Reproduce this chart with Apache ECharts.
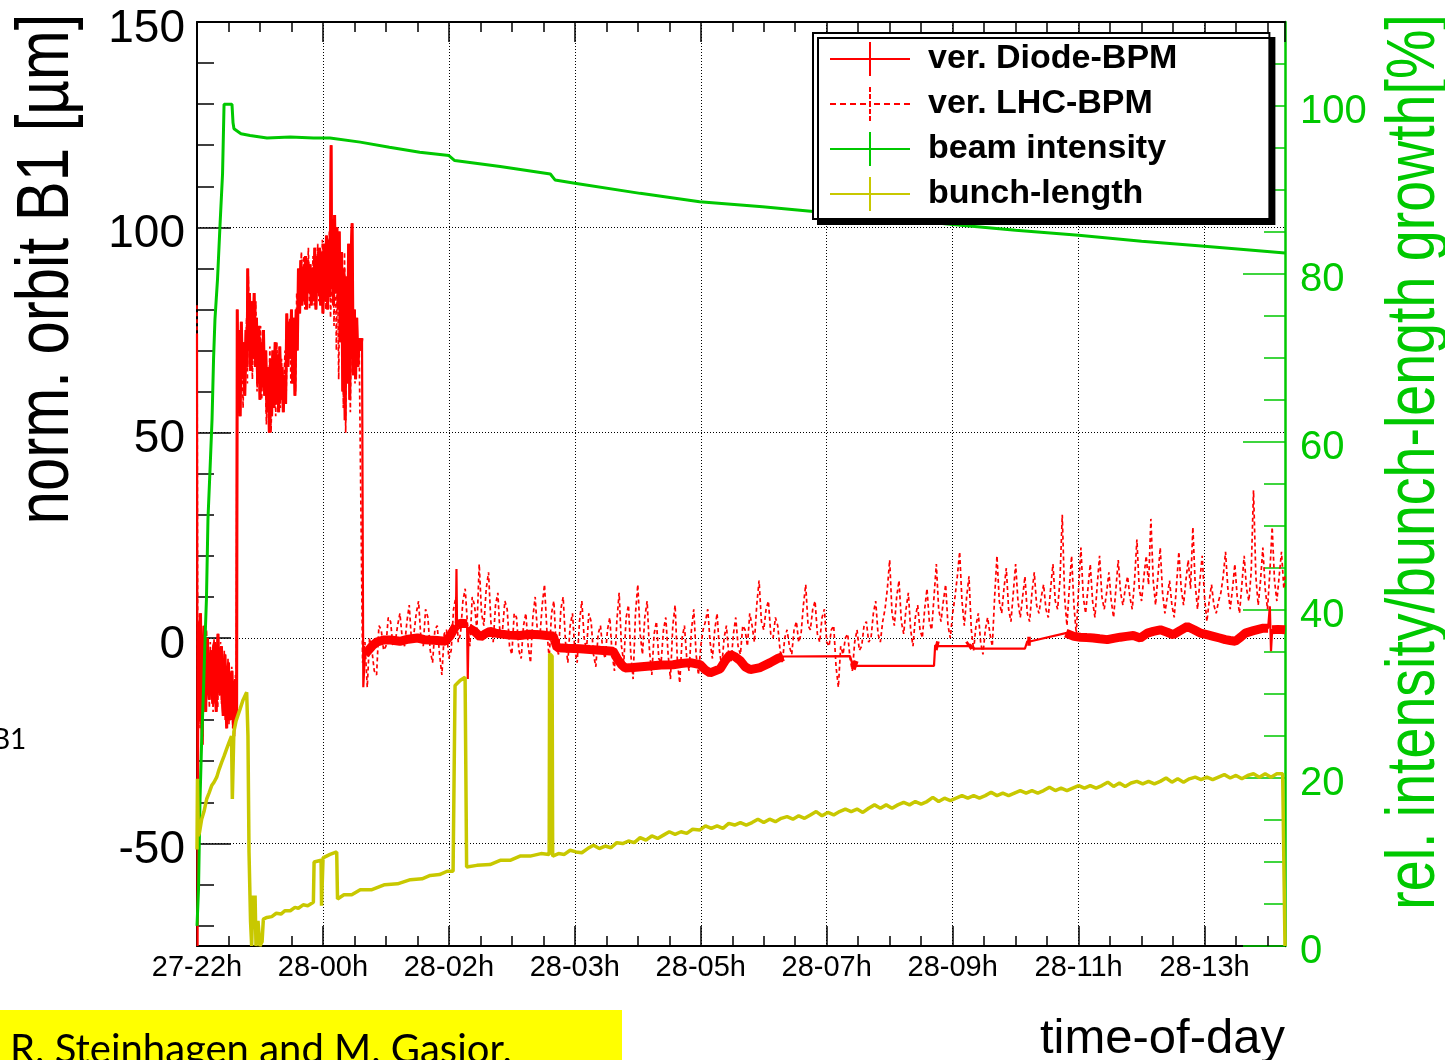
<!DOCTYPE html>
<html>
<head>
<meta charset="utf-8">
<title>Beam 1 orbit, intensity and bunch length</title>
<script src="https://cdn.jsdelivr.net/npm/echarts@6/dist/echarts.min.js"></script>
<style>
  html, body { margin: 0; padding: 0; background: #ffffff; }
  #chart { width: 1445px; height: 1060px; }
</style>
</head>
<body>
<div id="chart"></div>
<script>
// Time runs in minutes after the 27-22h tick; major ticks are 108 min apart.
const timeTickLabels = ['27-22h', '28-00h', '28-02h', '28-03h', '28-05h', '28-07h', '28-09h', '28-11h', '28-13h'];
const timeTickStep = 108;
const timeMinorStep = 27;
const timeEnd = 933;

const orbitMajorTicks = [-50, 0, 50, 100, 150];
const orbitMinorTicks = [-70, -60, -40, -30, -20, -10, 10, 20, 30, 40, 60, 70, 80, 90, 110, 120, 130, 140];
const growthMajorTicks = [0, 20, 40, 60, 80, 100];
const growthMinorTicks = [5, 10, 15, 25, 30, 35, 45, 50, 55, 65, 70, 75, 85, 90, 95, 105];

// ver. Diode-BPM: [minutes, µm]
const diodeBpm = [
  [0, 74], [0.5, -75], [1.2, 4],
  [1.5, -20], [2.2, 2], [3, 6], [3.7, -15], [4.5, -26], [5.2, -5], [6, 3], [6.7, -12],
  [7.5, -18], [8.2, -4], [9, 0], [9.7, -10], [10.5, -15], [11.2, -6], [12, -3], [12.7, -11],
  [13.5, -16], [14.2, -2], [15, -1], [15.7, -13], [16.5, -18], [17.2, -5], [18, 1], [18.7, -9],
  [19.5, -14], [20.2, -4], [21, -2], [21.7, -15], [22.5, -19], [23.2, -7], [24, -4], [24.7, -16],
  [25.5, -22], [26.2, -9], [27, -6], [27.7, -17], [28.5, -20], [29.2, -10], [30, -8], [30.7, -18],
  [31.5, -22], [32.2, -12], [33, -10], [33.5, -20], [34, -17],
  [34.5, 80], [35, 62], [36, 75], [37, 54], [38, 77], [39, 63], [40, 72], [41, 59], [42, 75],
  [43, 66], [43.5, 90], [44, 70], [45, 84], [46, 65], [47, 82], [48, 68], [49, 84], [50, 66],
  [51, 78], [52, 62], [53, 76], [54, 58], [55, 72], [56, 61], [57, 75], [58, 59], [59, 70],
  [60, 55], [61, 66], [62, 50], [63, 68], [64, 54], [65, 70], [66, 56], [67, 72], [68, 57],
  [69, 69], [70, 55], [71, 71], [72, 58], [73, 66], [74, 55], [75, 64], [76, 57], [77, 79],
  [78, 66], [79, 77], [80, 68], [81, 80], [82, 62], [83, 78], [84, 59], [85, 80], [86, 70],
  [87, 90], [88, 79], [89, 92], [90, 81], [91, 90], [92, 82], [93, 93], [94, 80], [95, 92],
  [96, 84], [97, 91], [98, 81], [99, 90], [100, 82], [101, 95], [102, 80], [103, 93], [104, 84],
  [105, 95], [106, 81], [107, 94], [108, 79], [109, 96], [110, 82], [111, 98], [112, 80],
  [113, 97], [114, 83], [115, 120], [115.5, 85], [116, 102], [117, 81], [118, 103], [119, 84],
  [120, 100], [121, 80], [122, 99], [123, 72], [124, 94], [125, 60], [126, 90], [127, 53],
  [128, 88], [129, 62], [130, 96], [131, 58], [132, 92], [133, 101], [134, 64], [135, 80],
  [136, 63], [137, 78], [138, 66], [139, 73], [140, 70], [141.5, 73], [142.6, -12],
  [144, -4], [147, -3], [150, -2], [154, -1], [160, -0.5], [166, -0.5], [174, -0.8], [181, -0.3],
  [189, 0], [195, -0.4], [200, -0.5], [206, -0.6], [213, -0.8], [217, 0.5], [222, 3.0],
  [222.5, 16.8], [223, 3.0], [226, 3.6], [231.6, 3.5], [232.2, -10], [232.9, 2.5], [238.5, 1.5],
  [243, 0.2], [247, 1.0], [251, 1.6], [256, 1.2], [260, 1.0], [268, 0.7], [277, 0.6], [285, 0.9],
  [294, 0.8], [300, 0.6], [305.4, 0.5], [308.8, -2.4], [318, -2.5], [328.5, -2.6], [337, -2.8],
  [345.7, -3.0], [356.8, -3.2], [360.3, -5], [364, -6.5], [367.1, -7.3], [374, -7.2], [381, -7.0],
  [388.6, -6.8], [398, -6.6], [408.3, -6.5], [415, -6.2], [423, -6], [431.5, -6.5], [436, -7.8],
  [440, -8.5], [448.6, -7.5], [453, -5.5], [457.2, -4], [461, -4.5], [465.8, -5.5], [470, -7],
  [474.4, -7.7], [483, -7.2], [491.6, -6], [498, -5], [502.7, -4.5],
  [560, -4.4], [562, -6.4], [566, -6.8], [632, -6.8], [633, -1.8], [636, -2.0], [661, -2.0],
  [663, -1.6], [666, -2.6], [710, -2.6], [712, -0.8], [715, -0.8],
  [745, 1.2], [746.3, 0.8], [752, 0.4], [757.5, 0.2], [763, 0.1], [768.6, 0], [774, -0.2],
  [780.6, -0.4], [786, -0.1], [791.8, 0.2], [797, 0.4], [802.9, 0.6], [808.9, 0], [814.9, 1.2],
  [820, 1.6], [826.1, 2.0], [832, 1.4], [837.2, 0.8], [843, 1.8], [849.2, 2.8], [855, 2.0],
  [860.4, 1.2], [866, 0.8], [871.5, 0.4], [877, 0], [881.8, -0.4], [886, -0.6], [890.4, -0.8],
  [895, 0.2], [899, 1.2], [906, 1.8], [914.4, 2.4], [918.5, 2.4], [920, 7.7], [921, -3.2],
  [922, 2.0], [927, 2.1], [933, 2.0]
];

// Early, strongly fluctuating stretch of the diode readout
const diodeNoisySpan = [1.5, 141.5];

// Stretches where the diode readings come so densely that their error bars merge into a band
const diodeDenseSpans = [
  [144, 222], [223, 231.6], [232.9, 502.7], [562, 566], [633, 636],
  [661, 663], [712, 715], [745, 918.5], [922, 933]
];

// ver. LHC-BPM: [minutes, µm]
const lhcBpm = [
  [0, 81], [0.6, -8], [1.8, -2], [2.6, -22], [3.4, 0], [4.2, -14], [5, -24], [5.8, 1],
  [6.6, -9], [7.4, -16], [8.2, 2], [9, -12], [9.8, -6], [10.6, -17], [11.4, -1], [12.2, -14],
  [13, -8], [13.8, -18], [14.6, 0], [15.4, -10], [16.2, -15], [17, -3], [17.8, -17], [18.6, -6],
  [19.4, -12], [20.2, -1], [21, -16], [21.8, -8], [22.6, -13], [23.4, -3], [24.2, -20], [25, -10],
  [25.8, -17], [26.6, -5], [27.4, -21], [28.2, -12], [29, -18], [29.8, -7], [30.6, -22],
  [31.4, -14], [32.2, -24], [33, -9], [33.8, -19], [34.4, 78],
  [35.5, 58], [36.5, 72], [37.5, 60], [38.5, 74], [39.5, 56], [40.5, 70], [41.5, 64], [42.5, 78],
  [43.2, 62], [44, 88], [45.5, 70], [46.5, 80], [47.5, 63], [48.5, 78], [49.5, 70], [50.5, 82],
  [51.5, 60], [52.5, 72], [53.5, 64], [54.5, 76], [55.5, 58], [56.5, 70], [57.5, 63], [58.5, 67],
  [59.5, 52], [60.5, 62], [61.5, 56], [62.5, 71], [63.5, 50], [64.5, 64], [65.5, 58], [66.5, 68],
  [67.5, 54], [68.5, 72], [69.5, 60], [70.5, 66], [71.5, 56], [72.5, 68], [73.5, 58], [74.5, 62],
  [75.5, 70], [76.5, 60], [77.5, 76], [78.5, 70], [79.5, 78], [80.5, 62], [81.5, 76], [82.5, 64],
  [83.5, 74], [84.5, 60], [85.5, 84], [86.5, 80], [87.5, 88], [88.5, 84], [89.5, 94], [90.5, 86],
  [91.5, 93], [92.5, 80], [93.5, 90], [94.5, 85], [95.5, 95], [96.5, 80], [97.5, 88], [98.5, 84],
  [99.5, 93], [100.5, 81], [101.5, 92], [102.5, 86], [103.5, 96], [104.5, 82], [105.5, 91],
  [106.5, 85], [107.5, 97], [108.5, 84], [109.5, 93], [110.5, 80], [111.5, 95], [112.5, 85],
  [113.5, 99], [114.5, 78], [116.5, 96], [117.5, 76], [118.5, 99], [119.5, 70], [120.5, 92],
  [121.5, 63], [122.5, 90], [123.5, 76], [124.5, 88], [125.5, 56], [126.5, 94], [127.5, 50],
  [128.5, 82], [129.5, 66], [130.5, 90], [131.5, 55], [132.5, 84], [133.5, 70], [134.5, 76],
  [135.5, 62], [136.5, 74], [137.5, 68],
  [139, 73], [142, -6], [144, -1], [146, -12], [148, 0], [150, -3], [152, -8], [154, -9],
  [156, 3], [158, 2], [160, -3], [162, -2], [164, 5], [166, 4], [168, -2], [170, -1], [172, 3],
  [174, 6], [176, 0], [178, -2], [180, 4], [182, 8], [184, -1], [186, 1], [188, 6], [190, 9],
  [192, 0], [194, -2], [196, 7], [198, 5], [200, -3], [202, -6], [204, 2], [206, 3], [208, -4],
  [210, -9], [212, 1], [214, 2], [216, -5], [218, -3], [220, 7], [222, 10], [224, -1], [226, 1],
  [228, 9], [230, 12], [232, 3], [234, -2], [236, 10], [238, 8], [240, 2], [242, 18], [244, 6],
  [246, 3], [248, 12], [250, 16], [252, 4], [254, -1], [256, 8], [258, 11], [260, 0], [262, 2],
  [264, 9], [266, 7], [268, -2], [270, -4], [272, 6], [274, 5], [276, -3], [278, -5], [280, 3],
  [282, 6], [284, -2], [286, -6], [288, 5], [290, 10], [292, 1], [294, 0], [296, 8], [298, 13],
  [300, 2], [302, -5], [304, 6], [306, 9], [308, -2], [310, -4], [312, 7], [314, 10], [316, -1],
  [318, -6], [320, 3], [322, 6], [324, -3], [326, -6], [328, 4], [330, 9], [332, 0], [334, -3],
  [336, 6], [338, 4], [340, -4], [342, -7], [344, 1], [346, 3], [348, -3], [350, -5], [352, 2],
  [354, 5], [356, -4], [358, -8], [360, 4], [362, 11], [364, -2], [366, -6], [368, 5], [370, 8],
  [372, -4], [374, -10], [376, 6], [378, 13], [380, 1], [382, -4], [384, 5], [386, 9], [388, -3],
  [390, -9], [392, 1], [394, 4], [396, -5], [398, -6], [400, 2], [402, 5], [404, -4], [406, -10],
  [408, 3], [410, 8], [412, -6], [414, -11], [416, 0], [418, 3], [420, -5], [422, -8], [424, 2],
  [426, 7], [428, -4], [430, -9], [432, -2], [434, 2], [436, 4], [438, 7], [440, -1], [442, -5],
  [444, 2], [446, 6], [448, -3], [450, -7], [452, 0], [454, 3], [456, -4], [458, -6], [460, 1],
  [462, 5], [464, -2], [466, -4], [468, 3], [470, 2], [472, -2], [474, 6], [476, 3], [478, -1],
  [480, 8], [482, 14], [484, 4], [486, 2], [488, 7], [490, 9], [492, 1], [494, 0], [496, 5],
  [498, 3], [500, -3], [502, -6], [504, 0], [506, 2], [508, -2], [510, -4], [512, 2], [514, 4],
  [516, -1], [518, 1], [520, 8], [522, 13], [524, 3], [526, 2], [528, 7], [530, 9], [532, 1],
  [534, -1], [536, 5], [538, 7], [540, -1], [542, -2], [544, 2], [546, 3], [548, -7], [550, -12],
  [552, -2], [554, -4], [556, 0], [558, 1], [560, -5], [562, -8], [564, -1], [566, 2], [568, -3],
  [570, -2], [572, 3], [574, 4], [576, -1], [578, 0], [580, 6], [582, 9], [584, 1], [586, -1],
  [588, 4], [590, 7], [592, 12], [594, 19], [596, 6], [598, 3], [600, 10], [602, 14], [604, 4],
  [606, 1], [608, 7], [610, 11], [612, 2], [614, -2], [616, 5], [618, 8], [620, 2], [622, 0],
  [624, 7], [626, 12], [628, 4], [630, 2], [632, 10], [634, 18], [636, 7], [638, 4], [640, 9],
  [642, 13], [644, 3], [646, 0], [648, 6], [650, 10], [652, 15], [654, 21], [656, 9], [658, 3],
  [660, 10], [662, 15], [664, 2], [666, -3], [668, 3], [670, 6], [672, -1], [674, -4], [676, 2],
  [678, 5], [680, 1], [682, -2], [684, 10], [686, 20], [688, 9], [690, 6], [692, 12], [694, 17],
  [696, 7], [698, 4], [700, 11], [702, 18], [704, 9], [706, 5], [708, 10], [710, 15], [712, 6],
  [714, 4], [716, 11], [718, 16], [720, 8], [722, 6], [724, 10], [726, 13], [728, 7], [730, 5],
  [732, 12], [734, 18], [736, 9], [738, 7], [740, 14], [742, 30], [744, 10], [746, 3], [748, 12],
  [750, 20], [752, 8], [754, 1], [756, 12], [758, 22], [760, 10], [762, 6], [764, 12], [766, 18],
  [768, 9], [770, 5], [772, 13], [774, 20], [776, 10], [778, 7], [780, 11], [782, 16], [784, 9],
  [786, 5], [788, 12], [790, 19], [792, 11], [794, 8], [796, 12], [798, 15], [800, 10], [802, 7],
  [804, 14], [806, 24], [808, 12], [810, 9], [812, 15], [814, 20], [816, 13], [818, 29], [820, 14],
  [822, 8], [824, 15], [826, 22], [828, 11], [830, 6], [832, 10], [834, 14], [836, 8], [838, 5],
  [840, 13], [842, 21], [844, 12], [846, 8], [848, 14], [850, 19], [852, 12], [854, 27], [856, 13],
  [858, 7], [860, 14], [862, 20], [864, 10], [866, 4], [868, 9], [870, 13], [872, 8], [874, 6],
  [876, 9], [878, 11], [880, 15], [882, 21], [884, 12], [886, 7], [888, 12], [890, 18], [892, 10],
  [894, 6], [896, 13], [898, 20], [900, 12], [902, 9], [904, 16], [906, 36], [908, 15], [910, 8],
  [912, 14], [914, 22], [916, 12], [918, 7], [920, 16], [922, 27], [924, 14], [926, 9], [928, 15],
  [930, 21], [932, 12], [933, 15]
];

// beam intensity: [minutes, %]
const beamIntensity = [
  [0, 2.4], [1.3, 6.8], [2.6, 17.5], [3.9, 24], [5.6, 30.6], [6.9, 36.5], [8.1, 41.3],
  [9.4, 50.8], [11.2, 56.8], [12.9, 62.7], [14.2, 69.9], [15.4, 74.6], [17.6, 79.4],
  [19.7, 85.7], [21.9, 91.9], [23.2, 100.2], [30.0, 100.2], [30.9, 98], [31.7, 97.3],
  [37.7, 96.7], [45.5, 96.5], [60, 96.2], [80, 96.3], [100, 96.2], [114, 96.2], [140, 95.7],
  [165, 95.1], [191, 94.5], [216, 94.1], [221, 93.5], [260, 92.8], [303, 91.9], [307, 91.2],
  [324, 90.8], [380, 89.6], [431, 88.6], [485, 88.0], [540, 87.3], [594, 86.6], [648, 85.9],
  [702, 85.2], [756, 84.6], [810, 83.9], [864, 83.3], [900, 82.9], [933, 82.5]
];

// bunch-length growth: [minutes, %]
const bunchLength = [
  [0, 11.5], [0.4, 19.9], [1.1, 13.1], [2.1, 13.5], [4.0, 15.1], [6.0, 16.0], [8.3, 17.5],
  [10.3, 18.2], [12.6, 19.1], [14.6, 19.5], [16.9, 20.1], [18.9, 21.0], [21.2, 21.9],
  [23.2, 22.6], [25.5, 23.5], [27.4, 24.2], [29.6, 25.0], [30.3, 17.5], [30.9, 17.5],
  [31.6, 25.5], [33.5, 26.8], [36.9, 28.2], [39.5, 29.3], [42.6, 30.2], [43.7, 25],
  [44.6, 11.2], [45.9, 3], [46.9, 0], [48.0, 6.0], [48.9, 2], [49.8, 6], [50.6, 0], [52.3, 3],
  [54.0, 0], [55.8, 0.5], [56.9, 3.2], [60, 3.4], [64.1, 3.5], [68, 3.9], [72, 3.8],
  [75.5, 4.2], [80, 4.2], [84, 4.6], [86.9, 4.5], [91, 4.9], [95, 4.8], [99.8, 5.2],
  [100.4, 10.0], [106.4, 10.2], [106.8, 4.8], [107.7, 4.8], [108.1, 10.5], [114.1, 10.9],
  [119.8, 11.2], [120.5, 5.6], [126, 6.1], [132.7, 6.1], [140, 6.7], [150, 6.7], [161, 7.3],
  [172, 7.4], [183, 7.9], [193, 8.0], [200, 8.4], [208, 8.5], [214.5, 8.9], [219.6, 8.9],
  [221.3, 31.0], [225.6, 31.6], [229.9, 32.0], [231.2, 9.4], [232.5, 9.2], [240, 9.6],
  [251.3, 9.7], [260, 10.2], [268.5, 10.2], [277, 10.7], [285.7, 10.7], [295, 11.0],
  [302.0, 10.9], [302.4, 34.8], [304.5, 34.5], [305.0, 10.7],
  [310, 11.0], [315, 10.9], [320, 11.4], [325, 11.2], [330, 11.1], [335, 11.6], [340, 12.0],
  [345, 11.6], [350, 11.9], [355, 11.7], [360, 12.3], [365, 12.2], [370, 12.5], [375, 12.3],
  [380, 12.9], [385, 12.6], [390, 13.1], [395, 12.8], [400, 13.2], [405, 13.6], [410, 13.3],
  [415, 13.6], [420, 13.4], [425, 13.9], [431, 13.8], [436, 14.3], [441, 14.0], [446, 14.3],
  [451, 14.0], [456, 14.6], [461, 14.4], [466, 14.7], [471, 14.4], [476, 14.7], [481, 15.1],
  [486, 14.7], [491, 15.1], [496, 14.8], [501, 15.2], [506, 15.4], [511, 15.1], [516, 15.5],
  [521, 15.2], [526, 15.6], [531, 16.0], [536, 15.5], [541, 15.9], [546, 15.6], [551, 16.0],
  [556, 16.3], [561, 16.0], [566, 16.3], [571, 15.9], [576, 16.4], [581, 16.8], [586, 16.4],
  [591, 16.8], [596, 16.4], [601, 16.8], [606, 17.1], [611, 16.8], [616, 17.2], [621, 16.9],
  [626, 17.2], [631, 17.7], [636, 17.2], [641, 17.6], [646, 17.3], [651, 17.6], [656, 17.9],
  [661, 17.6], [666, 17.9], [671, 17.6], [676, 17.9], [681, 18.3], [686, 17.9], [691, 18.2],
  [696, 17.9], [701, 18.2], [706, 18.5], [711, 18.2], [716, 18.5], [721, 18.2], [726, 18.5],
  [731, 18.9], [736, 18.5], [741, 18.8], [746, 18.5], [751, 18.8], [756, 19.1], [761, 18.8],
  [766, 19.1], [771, 18.8], [776, 19.1], [781, 19.5], [786, 19.0], [791, 19.4], [796, 19.0],
  [801, 19.4], [806, 19.6], [811, 19.3], [816, 19.6], [821, 19.3], [826, 19.6], [831, 20.0],
  [836, 19.5], [841, 19.9], [846, 19.5], [851, 19.9], [856, 20.1], [861, 19.8], [866, 20.1],
  [871, 19.8], [876, 20.1], [881, 20.4], [886, 20.0], [891, 20.3], [896, 19.9], [901, 20.3],
  [906, 20.5], [911, 20.1], [916, 20.5], [921, 20.1], [926, 20.5], [931, 20.5], [932.5, 20.4],
  [933, 0]
];

const FONT = "'Liberation Sans', Arial, Helvetica, sans-serif";
const RED = '#ff0000';
const GREEN = '#00c800';
const OLIVE = '#c8c800';

const crossIcon = 'path://M0,16H80V18H0Z M39,0H41V34H39Z';
const dashedCrossIcon = 'path://' +
  'M0,16h6v2h-6Z M10,16h6v2h-6Z M20,16h6v2h-6Z M30,16h6v2h-6Z ' +
  'M44,16h6v2h-6Z M54,16h6v2h-6Z M64,16h6v2h-6Z M74,16h6v2h-6Z ' +
  'M39,0h2v5h-2Z M39,7h2v5h-2Z M39,14h2v6h-2Z M39,22h2v5h-2Z M39,29h2v5h-2Z';

function timeLabel(v) {
  const i = Math.round(v / timeTickStep);
  if (Math.abs(v - i * timeTickStep) > 1e-6 || i < 0 || i >= timeTickLabels.length) return '';
  return timeTickLabels[i];
}

function pointsWithin(points, span) {
  return points.filter(function (p) { return p[0] >= span[0] && p[0] <= span[1]; });
}

const baseLine = {
  type: 'line', showSymbol: false, symbol: 'none', silent: true, animation: false,
  xAxisIndex: 0, clip: true
};

const series = [
  Object.assign({}, baseLine, {
    name: 'ver. Diode-BPM', yAxisIndex: 0, data: diodeBpm, z: 3,
    lineStyle: { color: RED, width: 2.2 }, itemStyle: { color: RED }
  }),
  Object.assign({}, baseLine, {
    name: 'ver. Diode-BPM', yAxisIndex: 0, data: pointsWithin(diodeBpm, diodeNoisySpan), z: 3,
    lineStyle: { color: RED, width: 3 }, itemStyle: { color: RED }
  })
];
diodeDenseSpans.forEach(function (span) {
  series.push(Object.assign({}, baseLine, {
    name: 'ver. Diode-BPM', yAxisIndex: 0, z: 3,
    data: pointsWithin(diodeBpm, span),
    lineStyle: { color: RED, width: 9 }, itemStyle: { color: RED }
  }));
});
series.push(Object.assign({}, baseLine, {
  name: 'ver. LHC-BPM', yAxisIndex: 0, data: lhcBpm, z: 4,
  lineStyle: { color: RED, width: 1.7, type: [4, 3] }, itemStyle: { color: RED }
}));
series.push(Object.assign({}, baseLine, {
  name: 'beam intensity', yAxisIndex: 2, data: beamIntensity, z: 5,
  lineStyle: { color: GREEN, width: 3 }, itemStyle: { color: GREEN }
}));
series.push(Object.assign({}, baseLine, {
  name: 'bunch-length', yAxisIndex: 2, data: bunchLength, z: 6,
  lineStyle: { color: OLIVE, width: 3.5 }, itemStyle: { color: OLIVE }
}));

// Extra axes that only carry the short minor ticks
function minorTickAxis(pos, min, max, extra, tickLen, color) {
  return Object.assign({
    type: 'value', position: pos, min: min, max: max,
    axisLine: { show: false, onZero: false },
    axisLabel: { show: false },
    splitLine: { show: false },
    minorTick: { show: false },
    minorSplitLine: { show: false }
  }, extra, {
    axisTick: Object.assign({ show: true, inside: true, length: tickLen, lineStyle: { color: color, width: 1.5 } }, extra.axisTick || {})
  });
}

const option = {
  backgroundColor: '#ffffff',
  animation: false,
  grid: {
    left: 197, right: 160, top: 22, bottom: 114,
    containLabel: false, outerBoundsMode: 'none', show: false
  },
  xAxis: [
    {
      type: 'value', position: 'bottom', min: 0, max: timeEnd, interval: timeTickStep,
      axisLine: { show: true, onZero: false, lineStyle: { color: '#000', width: 2 } },
      axisTick: { show: true, inside: true, length: 20, lineStyle: { color: '#000', width: 1.5 } },
      axisLabel: { show: true, margin: 7, fontSize: 29, color: '#000', fontFamily: FONT, formatter: timeLabel },
      splitLine: { show: true, lineStyle: { color: '#000', width: 1, type: [1, 2] } },
      minorTick: { show: false }
    },
    minorTickAxis('bottom', 0, timeEnd, { interval: timeMinorStep }, 10, '#000'),
    {
      type: 'value', position: 'top', min: 0, max: timeEnd, interval: timeTickStep,
      axisLine: { show: true, onZero: false, lineStyle: { color: '#000', width: 2 } },
      axisTick: { show: true, inside: true, length: 20, lineStyle: { color: '#000', width: 1.5 } },
      axisLabel: { show: false }, splitLine: { show: false }, minorTick: { show: false }
    },
    minorTickAxis('top', 0, timeEnd, { interval: timeMinorStep }, 10, '#000')
  ],
  yAxis: [
    {
      type: 'value', position: 'left', min: -75, max: 150, splitNumber: 5,
      axisLine: { show: true, onZero: false, lineStyle: { color: '#000', width: 2 } },
      axisTick: { show: true, inside: true, length: 34, customValues: orbitMajorTicks, lineStyle: { color: '#000', width: 1.5 } },
      axisLabel: {
        show: true, customValues: orbitMajorTicks, margin: 12, fontSize: 46, color: '#000',
        fontFamily: FONT, verticalAlign: 'top', lineHeight: 14
      },
      splitLine: { show: true, lineStyle: { color: '#000', width: 1, type: [1, 2] } },
      minorTick: { show: false }
    },
    minorTickAxis('left', -75, 150, { axisTick: { customValues: orbitMinorTicks } }, 17, '#000'),
    {
      type: 'value', position: 'right', min: 0, max: 110, splitNumber: 5,
      axisLine: { show: true, onZero: false, lineStyle: { color: GREEN, width: 2.5 } },
      axisTick: { show: true, inside: true, length: 42, customValues: growthMajorTicks, lineStyle: { color: GREEN, width: 1.5 } },
      axisLabel: {
        show: true, customValues: growthMajorTicks, margin: 15, fontSize: 40, color: GREEN,
        fontFamily: FONT, verticalAlign: 'top', lineHeight: 12
      },
      splitLine: { show: false }, minorTick: { show: false }
    },
    minorTickAxis('right', 0, 110, { axisTick: { customValues: growthMinorTicks } }, 21, GREEN)
  ],
  legend: {
    orient: 'vertical', left: 813, top: 33, z: 10, selectedMode: false,
    padding: [9, 92, 8, 17], itemGap: 11, itemWidth: 80, itemHeight: 34,
    backgroundColor: '#ffffff', borderColor: '#000', borderWidth: 2, borderRadius: 0,
    shadowColor: '#000', shadowBlur: 0, shadowOffsetX: 5, shadowOffsetY: 5,
    itemStyle: { borderWidth: 0 },
    textStyle: { fontSize: 34, fontWeight: 'bold', color: '#000', fontFamily: FONT, lineHeight: 34, padding: [0, 0, 0, 13] },
    data: [
      { name: 'ver. Diode-BPM', icon: crossIcon, itemStyle: { color: RED, borderWidth: 0 } },
      { name: 'ver. LHC-BPM', icon: dashedCrossIcon, itemStyle: { color: RED, borderWidth: 0 } },
      { name: 'beam intensity', icon: crossIcon, itemStyle: { color: GREEN, borderWidth: 0 } },
      { name: 'bunch-length', icon: crossIcon, itemStyle: { color: OLIVE, borderWidth: 0 } }
    ]
  },
  graphic: [
    {
      type: 'text', x: 48, y: 269, rotation: Math.PI / 2, scaleX: 0.81, scaleY: 1,
      style: {
        text: 'norm. orbit B1 [µm]', x: 0, y: 0, fontSize: 74, fontFamily: FONT, fill: '#000',
        align: 'center', verticalAlign: 'middle', textAlign: 'center', textVerticalAlign: 'middle'
      }
    },
    {
      type: 'text', x: 1415, y: 462, rotation: Math.PI / 2, scaleX: 0.817, scaleY: 1,
      style: {
        text: 'rel. intensity/bunch-length growth[%]', x: 0, y: 0, fontSize: 68, fontFamily: FONT, fill: GREEN,
        align: 'center', verticalAlign: 'middle', textAlign: 'center', textVerticalAlign: 'middle'
      }
    },
    {
      type: 'text', x: 1285, y: 1039,
      style: {
        text: 'time-of-day', x: 0, y: 0, fontSize: 49, fontFamily: FONT, fill: '#000',
        align: 'right', verticalAlign: 'middle', textAlign: 'right', textVerticalAlign: 'middle'
      }
    },
    {
      type: 'rect', shape: { x: 0, y: 1010, width: 622, height: 60 },
      style: { fill: '#ffff00' }
    },
    {
      type: 'text', x: 10, y: 1050,
      style: {
        text: 'R. Steinhagen and M. Gasior.', x: 0, y: 0, fontSize: 40, fontFamily: "Lato, 'Open Sans', sans-serif", fill: '#000',
        align: 'left', verticalAlign: 'middle', textAlign: 'left', textVerticalAlign: 'middle'
      }
    },
    {
      type: 'text', x: -8, y: 740,
      style: {
        text: 'B1', x: 0, y: 0, fontSize: 28, fontFamily: "Lato, 'Open Sans', sans-serif", fill: '#000',
        align: 'left', verticalAlign: 'middle', textAlign: 'left', textVerticalAlign: 'middle'
      }
    }
  ],
  series: series
};

const chart = echarts.init(document.getElementById('chart'), null, { renderer: 'canvas' });
chart.setOption(option);
</script>
</body>
</html>
